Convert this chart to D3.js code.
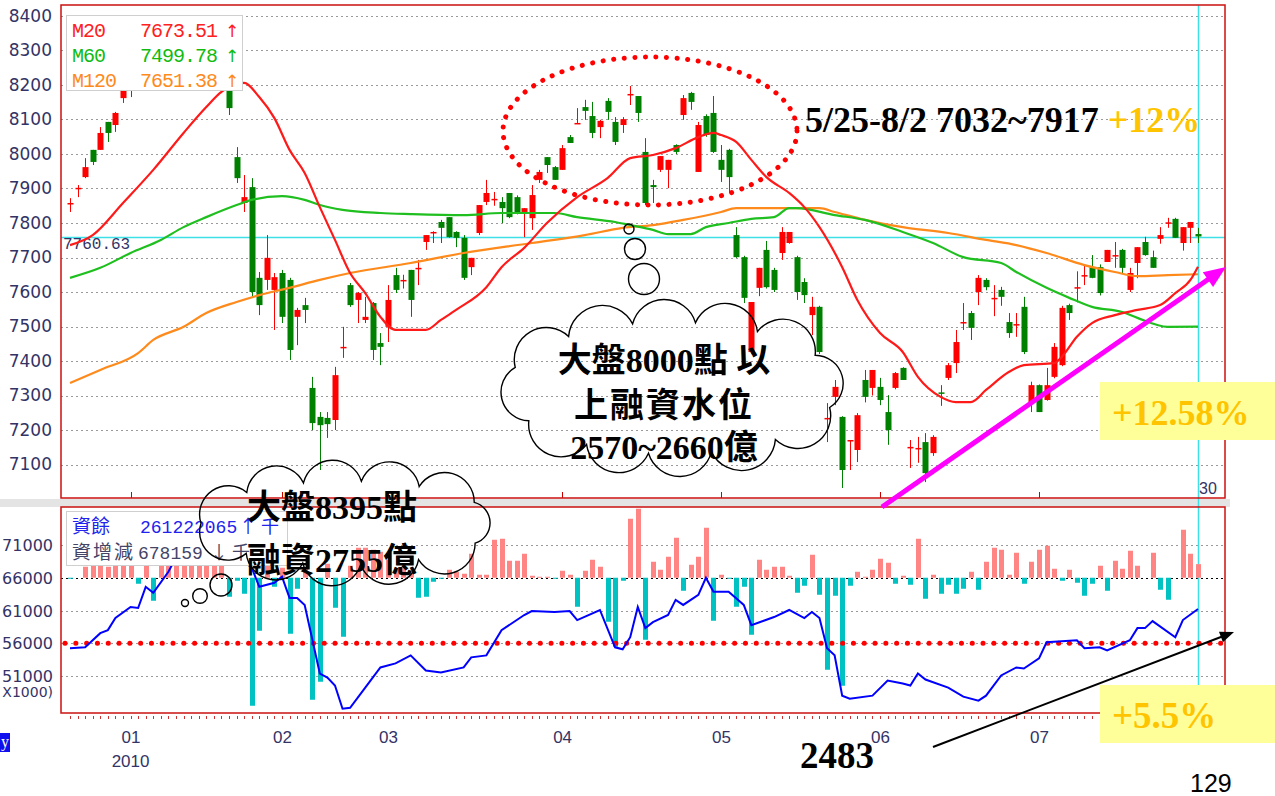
<!DOCTYPE html>
<html>
<head>
<meta charset="utf-8">
<title>TAIEX 2010 margin</title>
<script src="https://d3js.org/d3.v7.min.js"></script>
<style>
  body { margin: 0px; background: #ffffff; }
  .grid { stroke: #9a9a9a; stroke-width: 1; stroke-dasharray: 2,3; }
  .ylab text { fill: #333366; font-size: 17px; font-family: "DejaVu Sans", sans-serif; }
  .xlab text { fill: #333366; font-size: 17px; font-family: "Liberation Sans", sans-serif; }
  .mono { font-family: "Liberation Mono", "DejaVu Sans Mono", monospace; }
  .cjk { font-family: "Noto Sans CJK TC", sans-serif; }
  .note { font-family: "Liberation Serif", "Noto Sans CJK TC", serif; font-weight: bold; }
</style>
</head>
<body>
<svg id="chart" width="1275" height="796"></svg>
<script>
// ---- price data, one entry per trading day (late Dec 2009 .. 30 Jul 2010)
var openV = [
  7855,7898,7933,8012,8012,8093,8084,8162,8200,8190,
  8230,8215,8255,8290,8250,8300,8335,8310,8350,8370,
  8300,8191,7991,7858,7904,7641,7635,7606,7655,7635,
  7528,7562,7322,7238,7235,7229,7438,7620,7577,7519,
  7568,7452,7499,7649,7633,7664,7668,7745,7772,7803,
  7817,7774,7757,7672,7771,7861,7868,7861,7887,7875,
  7832,7814,7925,7991,7962,7954,8049,8088,8136,8110,
  8078,8154,8093,8084,8172,8168,8006,7910,7954,7954,
  8026,8113,8177,7948,8110,8119,7983,8012,7765,7701,
  7426,7612,7722,7664,7713,7742,7701,7629,7533,7557,
  7232,7296,7238,7168,7142,7345,7322,7325,7252,7322,
  7380,7148,7145,7165,7133,7309,7351,7394,7510,7539,
  7600,7635,7580,7606,7513,7505,7557,7278,7330,7287,
  7354,7388,7562,7612,7647,7672,7672,7687,7705,7722,
  7606,7684,7745,7701,7754,7800,7812,7742,7786,7768];
var highV = [
  7872,7910,7988,8012,8078,8093,8122,8200,8215,8230,
  8250,8270,8290,8300,8310,8340,8350,8380,8395,8380,
  8310,8205,8020,7939,7930,7658,7765,7655,7664,7641,
  7554,7583,7354,7252,7252,7383,7499,7626,7600,7586,
  7571,7481,7620,7670,7650,7664,7693,7765,7776,7809,
  7817,7776,7765,7699,7852,7925,7890,7875,7887,7880,
  7843,7910,7954,7991,7965,8026,8055,8133,8157,8151,
  8099,8162,8107,8107,8197,8168,8046,7925,7994,7983,
  8028,8171,8180,8093,8115,8168,8026,8015,7788,7705,
  7571,7670,7748,7670,7788,7774,7705,7640,7586,7560,
  7278,7345,7240,7171,7249,7374,7374,7351,7301,7368,
  7382,7171,7180,7191,7185,7330,7394,7490,7568,7545,
  7649,7640,7620,7615,7539,7539,7586,7340,7332,7380,
  7452,7560,7566,7660,7680,7707,7680,7722,7745,7725,
  7670,7730,7760,7720,7788,7815,7815,7788,7803,7786];
var lowV = [
  7832,7875,7930,7968,8012,8035,8064,8148,8165,8186,
  8200,8205,8245,8240,8245,8290,8300,8305,8340,8300,
  8210,8113,7916,7832,7586,7533,7606,7490,7510,7403,
  7446,7510,7200,7084,7177,7200,7409,7557,7510,7510,
  7403,7388,7455,7597,7610,7528,7620,7722,7742,7742,
  7757,7730,7635,7649,7765,7852,7850,7800,7814,7825,
  7759,7780,7916,7945,7925,7954,8032,8088,8099,8046,
  8046,8099,8026,8061,8142,8093,7852,7858,7948,7901,
  8000,8099,8128,7948,8050,8003,7919,7890,7699,7568,
  7420,7588,7610,7600,7693,7740,7577,7568,7475,7420,
  7165,7272,7032,7084,7107,7280,7300,7272,7157,7318,
  7345,7090,7105,7049,7125,7270,7345,7365,7490,7461,
  7562,7605,7530,7560,7467,7470,7420,7252,7252,7285,
  7350,7385,7519,7570,7620,7640,7590,7687,7670,7655,
  7600,7640,7705,7670,7740,7786,7757,7720,7742,7742];
var closeV = [
  7858,7902,7962,7977,8061,8061,8119,8186,8195,8212,
  8215,8262,8280,8250,8300,8330,8310,8360,8380,8310,
  8220,8133,7930,7875,7600,7562,7699,7643,7528,7432,
  7548,7548,7220,7214,7217,7359,7441,7562,7597,7528,
  7432,7441,7577,7606,7635,7577,7670,7765,7774,7786,
  7759,7757,7641,7699,7852,7887,7870,7843,7817,7829,
  7843,7881,7948,7968,7925,8017,8032,8090,8125,8061,
  8096,8122,8035,8101,8174,8119,7858,7904,7994,7983,
  8006,8162,8151,8084,8055,8006,7954,7933,7701,7583,
  7571,7670,7614,7606,7774,7774,7600,7591,7557,7426,
  7235,7325,7084,7171,7243,7296,7374,7287,7200,7365,
  7345,7151,7148,7075,7180,7307,7388,7455,7513,7496,
  7641,7614,7583,7586,7481,7507,7426,7330,7252,7330,
  7441,7554,7539,7614,7649,7641,7597,7722,7707,7670,
  7655,7730,7707,7670,7765,7802,7757,7788,7803,7761];

// moving averages, read at selected days
var m20Idx = [0,3,7,11,15,18,20,23,25,27,29,31,33,35,37,39,41,43,45,47,49,51,55,57,60,63,67,71,74,77,
  80,83,85,86,88,90,92,95,97,99,102,104,107,110,112,115,117,119,121,124,126,130,131,133,135,138,141,144,146,148,149];
var m20Val = [7736,7765,7858,7954,8061,8136,8180,8206,8165,8104,8012,7945,7846,7751,7655,7597,7528,7490,7490,7490,
  7519,7548,7614,7672,7728,7800,7875,7930,7988,7997,8017,8049,8061,8055,8035,7983,7933,7887,7846,7788,
  7672,7577,7481,7426,7354,7296,7281,7281,7316,7368,7388,7394,7412,7470,7510,7533,7548,7562,7597,7635,7673.51];
var m60Idx = [0,4,8,12,15,18,22,24,28,31,33,36,41,45,52,57,64,67,72,74,77,79,82,84,87,90,93,95,96,101,
  105,110,114,118,123,125,129,132,135,139,141,145,149];
var m60Val = [7641,7670,7713,7751,7788,7817,7852,7867,7878,7867,7852,7838,7829,7826,7823,7829,7829,7817,7803,7794,
  7780,7768,7768,7788,7800,7812,7817,7843,7843,7823,7809,7774,7742,7701,7684,7658,7612,7583,7557,7542,7525,7499,7499.78];
var m120Idx = [0,4,9,11,15,18,22,25,29,33,37,45,52,61,68,73,77,81,86,88,99,101,105,110,116,121,125,129,134,138,141,145,149];
var m120Val = [7336,7374,7423,7461,7499,7539,7571,7591,7612,7635,7655,7684,7713,7742,7765,7786,7794,7809,7832,7843,
  7843,7832,7809,7788,7771,7751,7736,7713,7678,7658,7646,7649,7651.38];

// margin balance (x1000) read at selected days, daily change (億)
var balIdx = [0,2,4,5,6,8,9,10,11,13,14,16,18,19,21,22,23,24,25,27,28,29,30,31,33,34,35,36,37,39,
  41,43,45,47,49,52,53,55,57,60,61,64,66,67,70,72,73,74,75,76,77,79,80,81,83,84,85,87,89,90,
  93,95,97,98,99,100,101,102,103,106,108,110,111,112,113,116,118,120,121,123,125,126,128,129,133,134,136,137,140,141,
  142,143,146,147,149];
var balVal = [255230,255380,257540,258000,259850,261540,261380,264620,263690,266920,269080,272000,275000,275500,273500,271000,268500,267540,264620,265230,
  266150,262920,262920,261850,251380,250770,249540,246000,246150,249230,252310,252920,254150,251850,251540,252310,253850,254150,258000,260310,
  260920,260770,260920,259540,261080,255380,255080,256920,261540,258310,259230,260310,262620,261850,263380,266000,263850,263850,261850,258770,
  260000,261080,259850,260770,259850,255230,254150,248000,247540,248000,250310,249850,249540,251380,250460,249230,247850,247230,248000,251080,
  252310,252150,253690,256150,256460,255230,255380,254920,256460,258310,258310,259380,256920,259540,261222];
var marginChg = [
  -0.5,0,5.5,8.5,8,5.5,10,10,10,-3,
  10,-11.5,11,13,10,12,11,14,15,12,
  7,-9.5,-1.5,-8,-64,-26.5,6,-4.5,5,-28,
  -5.5,5,-61,-52,7,-15,-29.5,6,15,15,
  14,13,9,5,5,3,-10,-9.5,-2,-0.5,
  4,3,2,12,1.5,1.5,19,19.5,8.5,8.5,
  12,1,0.5,0.5,-0.5,3.5,1.5,-14.5,3.5,9,
  5.5,-22,-34.5,-1.5,29.5,34.5,-31,8,4,10.5,
  20,-6.5,6.5,10.5,25,-21.5,1.5,-0.5,-14.5,-4.5,
  -28.5,9,4,5.5,5.5,1,-7.5,-4,11.5,-8.5,
  -46,-9,-54,-4,3,0.5,4,9.5,7.5,-3,
  1,-3.5,19.5,-10.5,1.5,-8,-3.5,-8,-5.5,3,
  -6,8,15,14,1.5,12.5,-3,8,14,16,
  4.5,-1.5,4,-2.5,-9,-3,6,-6.5,8.5,4.5,
  13.5,6,0,12.5,-6,-11,0,24,12,6.8];

var priceTicks = [7100,7200,7300,7400,7500,7600,7700,7800,7900,8000,8100,8200,8300,8400];
var balTicks = [251000,256000,261000,266000,271000];
// the panel cuts the leading digit of these labels
var balTickLabels = ["51000","56000","61000","66000","71000"];
var monthIdx = [8,28,42,65,86,107,128];
var monthLabels = ["01","02","03","04","05","06","07"];
var lastClose = 7760.63;

// ---- layout
var svg = d3.select("#chart");
var L = 61, R = 1225, T1 = 5, B1 = 498, T2 = 507, B2 = 713;
var N = openV.length;

var x = d3.scaleLinear().domain([0, N - 1]).range([70, 1198]);
var y = d3.scaleLinear().domain([7100, 8400]).range([464.5, 16]);
var y2 = d3.scaleLinear().domain([251000, 271000]).range([676, 545]);
var zeroY = y2(266000);
var yb = d3.scaleLinear().domain([0, 10]).range([zeroY, zeroY - 20]);
var px = function (v) { return Math.round(v) + 0.5; };

// separator band
svg.append("rect").attr("x", 0).attr("y", 499).attr("width", 1230).attr("height", 8).attr("fill", "#e4e4e4");

// grid
svg.append("g").selectAll("line").data(priceTicks).enter().append("line")
  .attr("class", "grid").attr("x1", L).attr("x2", R)
  .attr("y1", d => px(y(d))).attr("y2", d => px(y(d)));
svg.append("g").selectAll("line").data(balTicks).enter().append("line")
  .attr("class", "grid").attr("x1", L).attr("x2", R)
  .attr("y1", d => px(y2(d))).attr("y2", d => px(y2(d)))
  .style("stroke", d => d == 266000 ? "#000" : null);

// y axes
var ax1 = svg.append("g").attr("class", "ylab").attr("transform", "translate(" + L + ",0)")
  .call(d3.axisLeft(y).tickValues(priceTicks).tickSize(0).tickPadding(9).tickFormat(d3.format("d")));
ax1.select(".domain").remove();
svg.append("g").selectAll("text").data(balTicks).enter().append("text")
  .attr("x", 53).attr("y", d => y2(d) + 6).attr("text-anchor", "end")
  .style("font-family", "DejaVu Sans").style("font-size", "16px").attr("fill", "#333366")
  .text((d, i) => balTickLabels[i]);
svg.append("text").attr("x", 53).attr("y", 697).attr("text-anchor", "end")
  .style("font-family", "DejaVu Sans").style("font-size", "14px").attr("fill", "#333366").text("X1000)");

// cyan markers of the last day
svg.append("line").attr("x1", L).attr("x2", R).attr("y1", px(y(lastClose))).attr("y2", px(y(lastClose)))
  .attr("stroke", "#3de0e6").attr("stroke-width", 1.5);
svg.append("line").attr("x1", px(x(N - 1))).attr("x2", px(x(N - 1))).attr("y1", T1).attr("y2", B2)
  .attr("stroke", "#3de0e6").attr("stroke-width", 1.5);
svg.append("text").attr("x", 63).attr("y", 249).attr("class", "mono").style("font-size", "16px")
  .attr("fill", "#333366").text(lastClose.toFixed(2));

// candles
var upCol = "#ff0000", dnCol = "#008000";
var col = i => closeV[i] >= openV[i] ? upCol : dnCol;
var cg = svg.append("g").selectAll("g").data(d3.range(N)).enter().append("g");
cg.append("line")
  .attr("x1", i => px(x(i))).attr("x2", i => px(x(i)))
  .attr("y1", i => y(highV[i])).attr("y2", i => y(lowV[i]))
  .attr("stroke", col).attr("stroke-width", 1);
cg.append("rect")
  .attr("x", i => Math.round(x(i)) - 2.5).attr("width", 6)
  .attr("y", i => y(Math.max(openV[i], closeV[i])))
  .attr("height", i => Math.max(1.5, Math.abs(y(openV[i]) - y(closeV[i]))))
  .attr("fill", col);

// moving averages
function maLine(idx, val, color) {
  var pts = idx.map((d, k) => [d, val[k]]);
  svg.append("path").datum(pts)
    .attr("d", d3.line().x(d => x(d[0])).y(d => y(d[1])).curve(d3.curveMonotoneX))
    .attr("fill", "none").attr("stroke", color).attr("stroke-width", 2.2);
}
maLine(m120Idx, m120Val, "#ff8a1c");
maLine(m60Idx, m60Val, "#1fbf1f");
maLine(m20Idx, m20Val, "#ff1a1a");

// margin change bars
svg.append("g").selectAll("rect").data(marginChg).enter().append("rect")
  .attr("x", (d, i) => Math.round(x(i)) - 2).attr("width", 5)
  .attr("y", d => d >= 0 ? yb(d) : zeroY)
  .attr("height", d => Math.abs(yb(d) - zeroY))
  .attr("fill", d => d >= 0 ? "#ff8585" : "#00c2c2");

// red dotted level
svg.append("line").attr("x1", 65).attr("x2", R).attr("y1", y2(256000)).attr("y2", y2(256000))
  .attr("stroke", "#ff0000").attr("stroke-width", 5).attr("stroke-linecap", "round")
  .attr("stroke-dasharray", "0.1 10.7");

// margin balance line
var balPts = balIdx.map((d, k) => [d, balVal[k]]);
svg.append("path").datum(balPts)
  .attr("d", d3.line().x(d => x(d[0])).y(d => y2(d[1])))
  .attr("fill", "none").attr("stroke", "#0000ff").attr("stroke-width", 2);

// month ticks / labels
svg.append("g").selectAll("line").data(monthIdx).enter().append("line")
  .attr("x1", d => px(x(d))).attr("x2", d => px(x(d))).attr("y1", B1 - 6).attr("y2", B1)
  .attr("stroke", "#cc0000");
svg.append("g").selectAll("line").data(d3.range(N)).enter().append("line")
  .attr("x1", d => px(x(d))).attr("x2", d => px(x(d))).attr("y1", B2 + 3).attr("y2", B2 + 6)
  .attr("stroke", "#cc3333");
var xa = svg.append("g").attr("class", "xlab").attr("transform", "translate(0,731)")
  .call(d3.axisBottom(x).tickValues(monthIdx).tickSize(0).tickPadding(0).tickFormat((d, i) => monthLabels[i]));
xa.select(".domain").remove();
svg.append("text").attr("x", x(monthIdx[0])).attr("y", 767).attr("text-anchor", "middle")
  .style("font-family", "Liberation Sans").style("font-size", "17px").attr("fill", "#333366").text("2010");
svg.append("text").attr("x", 1199).attr("y", 494)
  .style("font-family", "Liberation Sans").style("font-size", "16px").attr("fill", "#333366").text("30");
svg.append("rect").attr("x", 0).attr("y", 733).attr("width", 10).attr("height", 19).attr("fill", "#1010ee");
svg.append("text").attr("x", 1).attr("y", 747).attr("fill", "#fff")
  .style("font-family", "Liberation Serif").style("font-size", "16px").text("y");

// legend (price)
var lg = svg.append("g");
lg.append("rect").attr("x", 66.5).attr("y", 15.5).attr("width", 176).attr("height", 75)
  .attr("fill", "#fff").attr("stroke", "#cfcfcf");
var maRows = [["M20", m20Val[m20Val.length - 1], "#ff2020"],
              ["M60", m60Val[m60Val.length - 1], "#11bb11"],
              ["M120", m120Val[m120Val.length - 1], "#ff8a1c"]];
maRows.forEach(function (r, k) {
  var by = 37 + k * 25;
  lg.append("text").attr("class", "mono").attr("x", 72).attr("y", by).attr("fill", r[2])
    .style("font-size", "20px").style("letter-spacing", "-1px").text(r[0]);
  lg.append("text").attr("class", "mono").attr("x", 140).attr("y", by).attr("fill", r[2])
    .style("font-size", "20px").style("letter-spacing", "-1px").text(r[1].toFixed(2));
  lg.append("text").attr("x", 225).attr("y", by).attr("fill", r[2])
    .style("font-family", "DejaVu Sans").style("font-size", "17px").text("↑");
});

// legend (margin)
var lg2 = svg.append("g");
lg2.append("rect").attr("x", 66.5).attr("y", 511.5).attr("width", 221).attr("height", 54)
  .attr("fill", "#fff").attr("stroke", "#cfcfcf");
lg2.append("text").attr("class", "cjk").attr("x", 72).attr("y", 533).attr("fill", "#2222ee")
  .style("font-size", "19px").text("資餘");
lg2.append("text").attr("class", "mono").attr("x", 140).attr("y", 533).attr("fill", "#2222ee")
  .style("font-size", "18px").text("261222065");
lg2.append("text").attr("class", "cjk").attr("x", 239).attr("y", 533).attr("fill", "#2222ee")
  .style("font-size", "18px").text("↑ 千");
lg2.append("text").attr("class", "cjk").attr("x", 72).attr("y", 559).attr("fill", "#444466")
  .style("font-size", "19px").style("letter-spacing", "2px").text("資增減");
lg2.append("text").attr("class", "mono").attr("x", 138).attr("y", 559).attr("fill", "#444466")
  .style("font-size", "18px").text("678159");
lg2.append("text").attr("class", "cjk").attr("x", 210).attr("y", 559).attr("fill", "#444466")
  .style("font-size", "18px").text("↓ 千");

// frames
svg.append("rect").attr("x", L).attr("y", T1).attr("width", R - L).attr("height", B1 - T1)
  .attr("fill", "none").attr("stroke", "#cc1111").attr("stroke-width", 1.5);
svg.append("rect").attr("x", L).attr("y", T2).attr("width", R - L).attr("height", B2 - T2)
  .attr("fill", "none").attr("stroke", "#cc1111").attr("stroke-width", 1.5);

// red dotted ellipse round the top
svg.append("ellipse").attr("cx", 650).attr("cy", 131).attr("rx", 147).attr("ry", 74)
  .attr("fill", "none").attr("stroke", "#ff0000").attr("stroke-width", 5)
  .attr("stroke-linecap", "round").attr("stroke-dasharray", "0.1 10.5");

// clouds
function cloudPath(cx, cy, rx, ry, n, phase) {
  var s = d3.range(0, 361).map(function (k) {
    var a = phase + k * Math.PI / 180;
    return [cx + rx * Math.cos(a), cy + ry * Math.sin(a)];
  });
  var cum = [0];
  for (var k = 1; k < s.length; k++)
    cum.push(cum[k - 1] + Math.hypot(s[k][0] - s[k - 1][0], s[k][1] - s[k - 1][1]));
  var total = cum[cum.length - 1];
  var pts = d3.range(n).map(function (j) {
    return s[Math.min(d3.bisectLeft(cum, total * j / n), 359)];
  });
  var p = "M" + pts[0];
  for (var j = 1; j <= n; j++) {
    var a = pts[j - 1], b = pts[j % n];
    var r = Math.hypot(b[0] - a[0], b[1] - a[1]) * 0.52;
    p += "A" + r + "," + r + " 0 0 1 " + b[0] + "," + b[1];
  }
  return p + "Z";
}
var cl = svg.append("g").attr("fill", "none").attr("stroke", "#000").attr("stroke-width", 1.4);
cl.append("path").attr("d", cloudPath(672, 388, 165, 66, 12, 0.3));
cl.append("path").attr("d", cloudPath(347, 523, 146, 42, 11, 0.5));
[[629, 229, 5], [635, 249, 10.5], [644, 279, 15.5], [185, 603, 3.5], [200, 596, 7.3], [221, 585, 11]]
  .forEach(function (c) { cl.append("circle").attr("cx", c[0]).attr("cy", c[1]).attr("r", c[2]); });

var notes = svg.append("g").attr("class", "note").attr("fill", "#000").attr("text-anchor", "middle");
[["大盤8000點 以", 372], ["上融資水位", 417], ["2570~2660億", 459]].forEach(function (t) {
  notes.append("text").attr("x", 664).attr("y", t[1]).style("font-size", "34px")
    .style("letter-spacing", t[0] == "上融資水位" ? "2px" : "0px").text(t[0]);
});
[["大盤8395點", 519], ["融資2755億", 572]].forEach(function (t) {
  notes.append("text").attr("x", 332).attr("y", t[1]).style("font-size", "34px").text(t[0]);
});

// arrows
function arrow(x0, y0, x1, y1, color, w, hl, hw) {
  var dx = x1 - x0, dy = y1 - y0, len = Math.hypot(dx, dy), ux = dx / len, uy = dy / len;
  svg.append("line").attr("x1", x0).attr("y1", y0).attr("x2", x1 - ux * hl * 0.8).attr("y2", y1 - uy * hl * 0.8)
    .attr("stroke", color).attr("stroke-width", w);
  var bx = x1 - ux * hl, by = y1 - uy * hl;
  svg.append("polygon").attr("fill", color)
    .attr("points", [[x1, y1], [bx - uy * hw, by + ux * hw], [bx + uy * hw, by - ux * hw]].join(" "));
}
arrow(882, 507, 1226, 267, "#ff00ff", 5, 22, 9);
arrow(933, 747, 1234, 632, "#000000", 2, 14, 5.5);

// annotation boxes and texts
var gold = "#ffc400";
svg.append("rect").attr("x", 1100).attr("y", 382).attr("width", 175).attr("height", 58).attr("fill", "#ffff99");
svg.append("rect").attr("x", 1100).attr("y", 685).attr("width", 175).attr("height", 58).attr("fill", "#ffff99");
var t1 = svg.append("text").attr("class", "note").attr("x", 805).attr("y", 132).style("font-size", "36px");
t1.append("tspan").attr("fill", "#000").text("5/25-8/2 7032~7917 ");
t1.append("tspan").attr("fill", gold).text("+12%");
svg.append("text").attr("class", "note").attr("x", 1112).attr("y", 425).style("font-size", "36px")
  .attr("fill", gold).text("+12.58%");
svg.append("text").attr("class", "note").attr("x", 1112).attr("y", 728).style("font-size", "37px")
  .attr("fill", gold).text("+5.5%");
svg.append("text").attr("class", "note").attr("x", 800).attr("y", 768).style("font-size", "37px")
  .attr("fill", "#000").text("2483");
svg.append("text").attr("x", 1190).attr("y", 792).style("font-family", "Liberation Sans")
  .style("font-size", "25px").attr("fill", "#000").text("129");
</script>
</body>
</html>
